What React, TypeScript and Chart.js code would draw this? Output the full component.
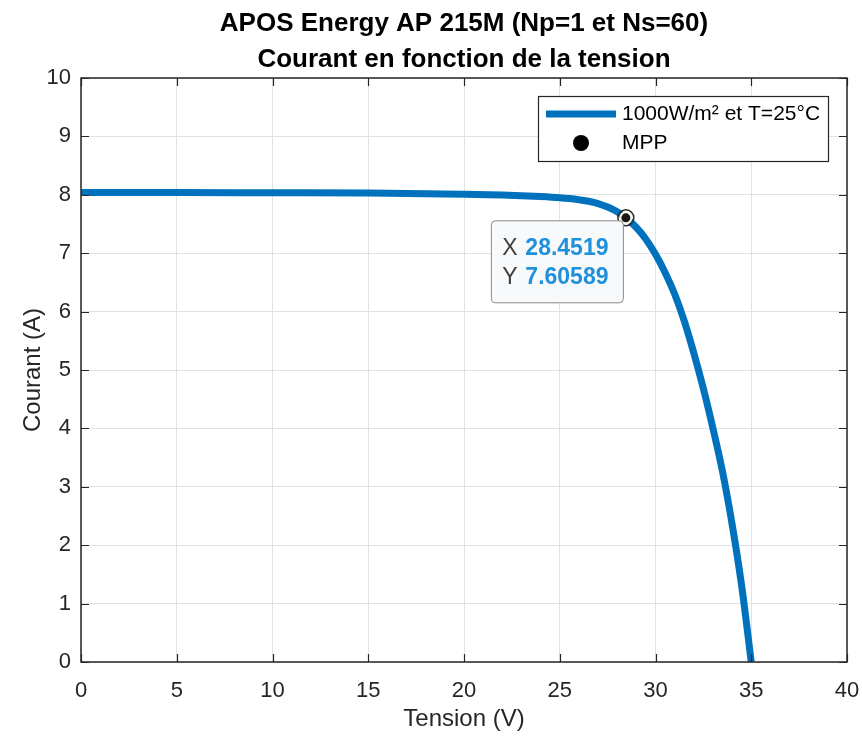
import React, { useEffect, useRef } from 'react';
import { Chart, registerables } from 'chart.js';

Chart.register(...registerables);

const TITLE_LINES = ['APOS Energy AP 215M (Np=1 et Ns=60)', 'Courant en fonction de la tension'];
const X_LABEL = 'Tension (V)';
const Y_LABEL = 'Courant (A)';
const SERIES_LABEL = '1000W/m² et T=25°C';
const MPP_LABEL = 'MPP';

const VOLTAGE = [0, 5, 10, 15, 18, 20, 22, 23, 24, 25, 25.5, 26, 26.5, 27, 27.5, 28, 28.4519, 29, 29.5, 30, 30.5, 31, 31.5, 32, 32.5, 33, 33.5, 34, 34.5, 35];
const CURRENT = [8.04, 8.04, 8.035, 8.03, 8.02, 8.01, 7.995, 7.985, 7.97, 7.95, 7.935, 7.915, 7.89, 7.85, 7.79, 7.71, 7.60589, 7.44, 7.24, 6.98, 6.67, 6.3, 5.84, 5.29, 4.68, 4.0, 3.26, 2.36, 1.3, 0];

const MPP_V = [28.4519];
const MPP_I = [7.60589];

const X_MIN = 0;
const X_MAX = 40;
const X_STEP = 5;
const Y_MIN = 0;
const Y_MAX = 10;
const Y_STEP = 1;

const FONT = '"Liberation Sans", Arial, Helvetica, sans-serif';
const AXIS_COLOR = '#262626';
const LINE_COLOR = '#0072BD';
const VALUE_COLOR = '#1E90DC';

const decorPlugin = {
  id: 'matlabDecor',
  afterDatasetsDraw(chart: any) {
    const { ctx, chartArea: a, scales } = chart;
    const xs = scales.x;
    const ys = scales.y;
    ctx.save();
    const mx = xs.getPixelForValue(MPP_V[0]);
    const my = ys.getPixelForValue(MPP_I[0]);
    ctx.beginPath();
    ctx.arc(mx, my, 8, 0, Math.PI * 2);
    ctx.strokeStyle = '#2a2a2a';
    ctx.lineWidth = 1.5;
    ctx.stroke();
    ctx.strokeStyle = AXIS_COLOR;
    ctx.lineWidth = 1.5;
    ctx.strokeRect(a.left, a.top, a.right - a.left, a.bottom - a.top);
    const TL = 8;
    ctx.beginPath();
    xs.ticks.forEach((t: any) => {
      const px = Math.round(xs.getPixelForValue(t.value)) + 0.5;
      ctx.moveTo(px, a.bottom);
      ctx.lineTo(px, a.bottom - TL);
      ctx.moveTo(px, a.top);
      ctx.lineTo(px, a.top + TL);
    });
    ys.ticks.forEach((t: any) => {
      const py = Math.round(ys.getPixelForValue(t.value)) + 0.5;
      ctx.moveTo(a.left, py);
      ctx.lineTo(a.left + TL, py);
      ctx.moveTo(a.right, py);
      ctx.lineTo(a.right - TL, py);
    });
    ctx.lineWidth = 1.2;
    ctx.stroke();
    ctx.restore();
  },
  afterDraw(chart: any) {
    const { ctx, scales } = chart;
    const xs = scales.x;
    const ys = scales.y;
    const ds = chart.data.datasets;
    ctx.save();

    const lx = 538, ly = 96, lw = 290, lh = 65;
    ctx.fillStyle = '#ffffff';
    ctx.fillRect(lx, ly, lw, lh);
    ctx.strokeStyle = AXIS_COLOR;
    ctx.lineWidth = 1.2;
    ctx.strokeRect(lx + 0.5, ly + 0.5, lw, lh);
    ctx.beginPath();
    ctx.moveTo(lx + 8, ly + 18);
    ctx.lineTo(lx + 78, ly + 18);
    ctx.strokeStyle = ds[0].borderColor;
    ctx.lineWidth = 7;
    ctx.stroke();
    ctx.beginPath();
    ctx.arc(lx + 43, ly + 47, 8, 0, Math.PI * 2);
    ctx.fillStyle = '#000000';
    ctx.fill();
    ctx.font = `21px ${FONT}`;
    ctx.fillStyle = '#000000';
    ctx.textBaseline = 'middle';
    ctx.textAlign = 'left';
    ctx.fillText(ds[0].label, lx + 84, ly + 18);
    ctx.fillText(ds[1].label, lx + 84, ly + 47);

    const mx = xs.getPixelForValue(MPP_V[0]);
    const my = ys.getPixelForValue(MPP_I[0]);
    const bw = 132, bh = 82;
    const bx = mx - bw - 2.5;
    const by = my + 3;
    ctx.beginPath();
    const r = 4;
    ctx.moveTo(bx + r, by);
    ctx.lineTo(bx + bw - r, by);
    ctx.quadraticCurveTo(bx + bw, by, bx + bw, by + r);
    ctx.lineTo(bx + bw, by + bh - r);
    ctx.quadraticCurveTo(bx + bw, by + bh, bx + bw - r, by + bh);
    ctx.lineTo(bx + r, by + bh);
    ctx.quadraticCurveTo(bx, by + bh, bx, by + bh - r);
    ctx.lineTo(bx, by + r);
    ctx.quadraticCurveTo(bx, by, bx + r, by);
    ctx.closePath();
    ctx.fillStyle = '#f8f9fb';
    ctx.fill();
    ctx.strokeStyle = '#8a8a8a';
    ctx.lineWidth = 1;
    ctx.stroke();

    ctx.textBaseline = 'middle';
    ctx.font = `23px ${FONT}`;
    ctx.fillStyle = '#404040';
    ctx.fillText('X', bx + 11, by + 28);
    ctx.fillText('Y', bx + 11, by + 57);
    ctx.font = `bold 23px ${FONT}`;
    ctx.fillStyle = VALUE_COLOR;
    ctx.fillText(String(MPP_V[0]), bx + 34, by + 28);
    ctx.fillText(String(MPP_I[0]), bx + 34, by + 57);
    ctx.restore();
  },
};

export default function App() {
  const canvasRef = useRef<HTMLCanvasElement | null>(null);

  useEffect(() => {
    const canvas = canvasRef.current;
    if (!canvas) return;
    const chart = new Chart(canvas, {
      type: 'line',
      data: {
        datasets: [
          {
            label: SERIES_LABEL,
            data: VOLTAGE.map((v, i) => ({ x: v, y: CURRENT[i] })),
            borderColor: LINE_COLOR,
            backgroundColor: LINE_COLOR,
            borderWidth: 7,
            pointRadius: 0,
            cubicInterpolationMode: 'monotone',
            fill: false,
            order: 1,
          },
          {
            label: MPP_LABEL,
            data: MPP_V.map((v, i) => ({ x: v, y: MPP_I[i] })),
            showLine: false,
            pointRadius: 5.5,
            pointBackgroundColor: '#1a1a1a',
            pointBorderColor: '#fff8e6',
            pointBorderWidth: 2,
            order: 0,
          },
        ],
      },
      options: {
        responsive: false,
        animation: false,
        layout: { padding: { left: 0, right: 0, top: 0, bottom: 0 } },
        plugins: {
          legend: { display: false },
          tooltip: { enabled: false },
          title: {
            display: true,
            text: TITLE_LINES,
            fullSize: false,
            align: 'center',
            color: '#000000',
            font: { family: FONT, size: 26, weight: 'bold', lineHeight: 36 / 26 },
            padding: { top: 6, bottom: 0 },
          },
        },
        scales: {
          x: {
            type: 'linear',
            min: X_MIN,
            max: X_MAX,
            afterFit: (s: any) => { s.height = 76; s.paddingRight = 15; s.paddingLeft = 0; },
            ticks: {
              stepSize: X_STEP,
              color: AXIS_COLOR,
              font: { family: FONT, size: 22 },
              padding: 16,
              maxRotation: 0,
            },
            grid: { color: '#e2e2e2', lineWidth: 1, drawTicks: false },
            border: { display: false },
            title: {
              display: true,
              text: X_LABEL,
              color: AXIS_COLOR,
              font: { family: FONT, size: 24 },
              padding: { top: 0, bottom: 4 },
            },
          },
          y: {
            type: 'linear',
            min: Y_MIN,
            max: Y_MAX,
            afterFit: (s: any) => { s.width = 81; s.paddingTop = 0; s.paddingBottom = 0; },
            ticks: {
              stepSize: Y_STEP,
              color: AXIS_COLOR,
              font: { family: FONT, size: 22 },
              padding: 10,
            },
            grid: { color: '#e2e2e2', lineWidth: 1, drawTicks: false },
            border: { display: false },
            title: {
              display: true,
              text: Y_LABEL,
              color: AXIS_COLOR,
              font: { family: FONT, size: 24 },
              padding: { top: 19, bottom: 0 },
            },
          },
        },
      },
      plugins: [decorPlugin],
    } as any);
    return () => chart.destroy();
  }, []);

  return (
    <div style={{ position: 'absolute', left: 0, top: 0, width: 862, height: 738, background: '#ffffff' }}>
      <canvas ref={canvasRef} width={862} height={738} style={{ display: 'block' }} />
    </div>
  );
}
